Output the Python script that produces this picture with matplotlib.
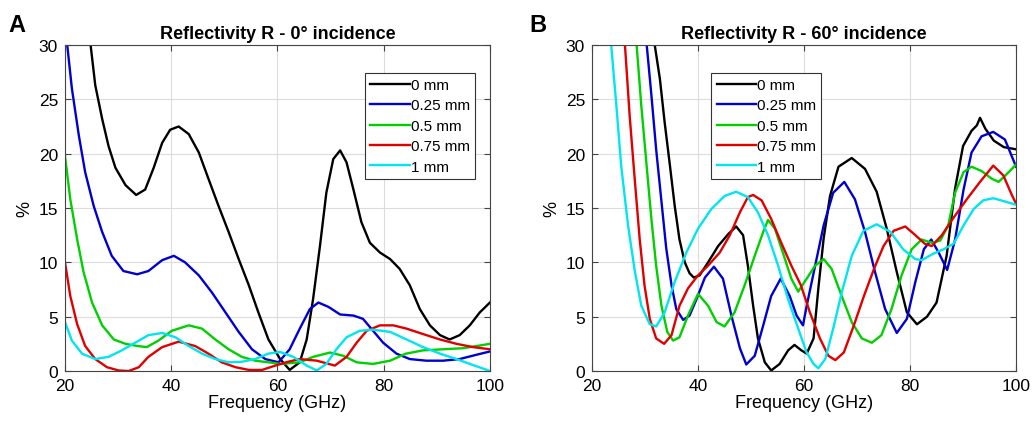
import numpy as np
import matplotlib.pyplot as plt

plt.rcParams['font.family'] = ['Liberation Sans', 'DejaVu Sans']

labels = ['0 mm', '0.25 mm', '0.5 mm', '0.75 mm', '1 mm']
colors = ['#000000', '#0000d0', '#00d000', '#e00000', '#00e5ee']

# Panel A - 0 deg incidence (frequency GHz, reflectivity %)
a_f0 = [24.2, 24.8, 25.7, 27.0, 28.2, 29.5, 31.4, 33.4, 35.1, 36.7, 38.3, 39.8, 41.4, 43.3, 45.2, 47.0, 48.9, 50.8, 52.7, 54.6, 56.4, 58.3, 60.5, 62.3, 64.2, 65.5, 66.7, 68.0, 69.2, 70.5, 71.8, 73.0, 74.3, 75.8, 77.4, 79.3, 81.2, 83.0, 84.9, 86.8, 88.7, 90.6, 92.4, 94.3, 96.2, 98.1, 100]
a_r0 = [32, 30.1, 26.3, 23.2, 20.7, 18.7, 17.1, 16.2, 16.7, 18.7, 21.0, 22.2, 22.5, 21.8, 20.1, 17.7, 15.2, 12.8, 10.3, 7.9, 5.4, 2.9, 1.1, 0.1, 0.8, 2.9, 6.6, 11.5, 16.4, 19.5, 20.3, 19.2, 16.7, 13.7, 11.8, 10.9, 10.3, 9.4, 7.9, 5.7, 4.2, 3.3, 2.9, 3.3, 4.2, 5.4, 6.3]
a_f1 = [20.0, 20.4, 21.3, 22.6, 23.8, 25.4, 27.0, 28.8, 31.0, 33.6, 35.7, 38.3, 40.5, 42.6, 45.2, 47.7, 50.2, 52.7, 55.2, 57.7, 60.2, 62.3, 64.2, 66.1, 67.7, 69.6, 71.8, 74.3, 76.1, 78.0, 79.9, 82.4, 84.9, 88.0, 91.2, 94.3, 97.5, 100]
a_r1 = [31.5, 30.1, 26.0, 21.7, 18.3, 15.2, 12.8, 10.6, 9.2, 8.9, 9.2, 10.2, 10.6, 10.0, 8.8, 7.2, 5.4, 3.6, 2.0, 1.1, 0.8, 2.0, 3.9, 5.7, 6.3, 5.9, 5.2, 5.1, 4.8, 3.7, 2.6, 1.6, 1.1, 0.95, 0.95, 1.1, 1.5, 1.8]
a_f2 = [20.0, 21.0, 22.3, 23.5, 25.1, 27.0, 29.2, 31.4, 33.6, 35.4, 37.6, 40.1, 43.3, 45.8, 48.3, 50.8, 53.3, 55.8, 58.3, 60.5, 64.2, 66.7, 69.9, 72.4, 74.9, 78.0, 81.2, 84.2, 87.4, 91.2, 95.0, 100]
a_r2 = [19.8, 15.8, 12.1, 9.1, 6.3, 4.2, 2.9, 2.5, 2.3, 2.2, 2.8, 3.7, 4.2, 3.9, 2.9, 2.0, 1.3, 0.95, 0.8, 0.65, 0.8, 1.3, 1.7, 1.4, 0.8, 0.65, 0.95, 1.6, 1.9, 2.0, 2.1, 2.5]
a_f3 = [20.0, 21.0, 22.3, 23.8, 25.7, 27.9, 30.1, 32.0, 33.9, 35.7, 38.3, 41.4, 44.5, 47.0, 49.5, 52.1, 54.6, 57.1, 59.6, 62.0, 64.2, 67.4, 70.8, 73.0, 74.9, 76.8, 79.3, 81.8, 84.3, 87.4, 90.6, 93.7, 96.8, 100]
a_r3 = [10.0, 6.9, 4.3, 2.3, 1.1, 0.35, 0.05, 0.0, 0.35, 1.3, 2.2, 2.7, 2.3, 1.6, 0.8, 0.35, 0.1, 0.1, 0.5, 0.85, 1.1, 0.95, 0.5, 1.3, 2.6, 3.7, 4.2, 4.2, 3.9, 3.4, 2.9, 2.5, 2.2, 2.0]
a_f4 = [20.0, 21.3, 23.2, 25.7, 28.2, 30.7, 33.2, 35.7, 38.3, 40.8, 43.3, 45.8, 48.3, 50.8, 53.3, 55.8, 58.3, 60.5, 63.0, 65.5, 67.4, 69.2, 71.1, 73.0, 75.5, 78.0, 81.2, 84.3, 87.4, 90.6, 93.7, 96.8, 100]
a_r4 = [4.5, 2.8, 1.6, 1.1, 1.3, 1.9, 2.6, 3.3, 3.5, 3.1, 2.3, 1.6, 1.1, 0.8, 0.85, 1.1, 1.6, 1.75, 1.3, 0.5, 0.05, 0.65, 2.0, 3.1, 3.7, 3.8, 3.6, 2.9, 2.2, 1.6, 1.1, 0.55, 0.0]

# Panel B - 60 deg incidence
b_f0 = [31.3, 31.8, 32.8, 33.7, 34.7, 35.6, 36.5, 37.5, 38.4, 39.2, 40.3, 41.9, 43.8, 45.7, 47.2, 48.5, 49.4, 50.4, 51.3, 52.6, 53.8, 55.4, 57.0, 58.2, 59.5, 60.5, 61.8, 62.7, 63.7, 64.9, 66.5, 69.0, 71.5, 73.7, 75.6, 77.5, 79.4, 81.3, 83.2, 85.0, 86.9, 88.5, 90.0, 91.6, 92.6, 93.2, 94.2, 95.8, 97.7, 100]
b_r0 = [32, 30.1, 26.9, 22.9, 18.9, 15.2, 12.1, 10.0, 9.0, 8.6, 8.8, 10.0, 11.5, 12.6, 13.3, 12.5, 9.7, 6.0, 3.0, 0.8, 0.05, 0.65, 1.9, 2.4, 1.9, 1.6, 3.0, 7.6, 12.2, 16.1, 18.8, 19.6, 18.6, 16.5, 13.1, 9.1, 5.4, 4.3, 5.0, 6.3, 10.6, 16.8, 20.7, 22.1, 22.6, 23.3, 22.3, 21.2, 20.6, 20.4]
b_f1 = [29.7, 30.3, 31.2, 32.1, 33.1, 34.0, 35.0, 35.9, 37.2, 38.4, 39.7, 41.3, 43.0, 44.7, 46.3, 47.9, 49.1, 50.7, 52.3, 53.8, 55.6, 57.3, 58.6, 59.8, 60.5, 62.1, 63.7, 65.5, 67.6, 69.6, 71.5, 73.4, 75.3, 77.5, 79.4, 81.0, 82.6, 84.0, 85.4, 87.0, 88.5, 90.1, 91.6, 93.5, 95.7, 97.9, 100]
b_r1 = [32, 30.1, 25.4, 20.4, 15.6, 11.3, 7.9, 5.7, 4.7, 5.1, 6.6, 8.6, 9.6, 8.5, 5.1, 2.1, 0.6, 1.4, 4.2, 6.9, 8.5, 6.9, 5.1, 4.2, 6.0, 9.7, 13.4, 16.4, 17.4, 15.8, 12.8, 9.1, 5.7, 3.5, 4.8, 8.2, 11.2, 12.1, 10.9, 9.3, 12.1, 16.7, 20.1, 21.6, 22.0, 21.3, 18.8]
b_f2 = [27.8, 28.4, 29.3, 30.3, 31.2, 32.1, 33.1, 34.2, 35.3, 36.5, 38.1, 40.0, 41.9, 43.5, 45.0, 46.9, 48.8, 50.7, 52.3, 53.2, 54.5, 56.0, 57.6, 58.9, 60.5, 62.1, 63.7, 65.2, 67.1, 69.0, 70.9, 72.8, 74.6, 76.5, 78.4, 80.3, 82.2, 84.1, 85.7, 87.2, 88.5, 90.1, 91.6, 93.5, 95.4, 96.7, 98.2, 100]
b_r2 = [32, 30.1, 24.4, 18.9, 14.0, 9.7, 6.0, 3.6, 2.8, 3.1, 5.1, 7.1, 6.0, 4.5, 4.1, 5.4, 7.9, 10.6, 12.8, 13.9, 13.1, 10.9, 8.5, 7.3, 8.5, 9.7, 10.3, 9.4, 6.9, 4.5, 3.0, 2.6, 3.3, 5.7, 8.8, 11.2, 12.1, 11.8, 12.0, 13.4, 16.4, 18.3, 18.8, 18.4, 17.7, 17.4, 18.1, 19.0]
b_f3 = [25.6, 26.2, 27.1, 28.1, 29.0, 29.9, 30.9, 32.1, 33.6, 35.0, 36.5, 38.1, 40.0, 41.9, 44.1, 46.0, 47.9, 49.4, 50.4, 52.0, 53.8, 55.7, 57.6, 59.4, 61.1, 63.0, 64.6, 65.9, 67.5, 69.4, 71.3, 73.2, 75.0, 76.9, 79.1, 81.0, 82.8, 84.1, 86.0, 88.2, 90.7, 93.2, 95.7, 97.6, 99.2, 100]
b_r3 = [32, 30.1, 23.5, 17.4, 12.1, 7.9, 4.8, 3.0, 2.5, 3.3, 6.0, 7.6, 8.8, 9.7, 10.9, 12.5, 14.6, 16.0, 16.2, 15.7, 14.0, 11.8, 9.7, 7.9, 5.4, 3.0, 1.4, 1.0, 1.7, 4.2, 6.9, 9.4, 11.5, 12.9, 13.3, 12.5, 11.7, 11.5, 12.5, 14.1, 15.8, 17.4, 18.9, 18.0, 16.2, 15.4]
b_f4 = [23.0, 23.6, 24.6, 25.5, 26.8, 28.1, 29.3, 30.9, 32.1, 33.7, 35.6, 37.8, 40.0, 42.5, 45.0, 47.2, 49.4, 51.3, 53.2, 55.1, 57.0, 58.9, 60.5, 61.8, 62.7, 64.0, 65.5, 67.1, 69.0, 71.2, 73.7, 76.3, 78.7, 81.0, 82.2, 84.4, 86.3, 88.2, 90.1, 92.0, 93.8, 95.7, 97.9, 100]
b_r4 = [32, 30.1, 24.4, 18.9, 13.4, 9.1, 6.0, 4.3, 4.1, 5.4, 8.2, 10.9, 13.1, 14.9, 16.1, 16.5, 16.0, 14.6, 12.5, 9.7, 6.6, 3.9, 1.7, 0.65, 0.25, 1.1, 3.9, 7.2, 10.6, 12.9, 13.5, 12.8, 11.2, 10.3, 10.2, 10.8, 11.2, 11.7, 13.4, 14.9, 15.7, 15.9, 15.6, 15.3]

panel_a = [(a_f0, a_r0), (a_f1, a_r1), (a_f2, a_r2), (a_f3, a_r3), (a_f4, a_r4)]
panel_b = [(b_f0, b_r0), (b_f1, b_r1), (b_f2, b_r2), (b_f3, b_r3), (b_f4, b_r4)]

fig = plt.figure(figsize=(10.33, 4.27), dpi=100)
ax_a = fig.add_axes([0.0629, 0.1288, 0.4114, 0.7635])
ax_b = fig.add_axes([0.5731, 0.1288, 0.4105, 0.7635])

def draw_panel(ax, series, title, legend_x):
    for (f, r), c, lab in zip(series, colors, labels):
        ax.plot(f, r, color=c, lw=1.7, label=lab, solid_joinstyle='round')
    ax.set_xlim(20, 100)
    ax.set_ylim(0, 30)
    ax.set_xticks([20, 40, 60, 80, 100])
    ax.set_yticks([0, 5, 10, 15, 20, 25, 30])
    ax.grid(True, color='#dcdcdc', lw=0.8)
    ax.set_axisbelow(True)
    ax.tick_params(direction='in', top=True, right=True, labelsize=12.5, length=4, color='#444444', pad=5)
    for s in ax.spines.values():
        s.set_color('#444444')
        s.set_linewidth(0.8)
    ax.set_title(title, fontsize=13, fontweight='bold', pad=5)
    ax.set_xlabel('Frequency (GHz)', fontsize=13, labelpad=1)
    ax.set_ylabel('%', fontsize=13, labelpad=4)
    leg = ax.legend(loc='upper left', bbox_to_anchor=(legend_x, 0.915), fontsize=11,
                    handlelength=2.6, handletextpad=0.05, borderpad=0.35, labelspacing=0.42,
                    fancybox=False, framealpha=1, edgecolor='#333333', borderaxespad=0)
    leg.get_frame().set_linewidth(0.8)

draw_panel(ax_a, panel_a, 'Reflectivity R - 0° incidence', 0.706)
draw_panel(ax_b, panel_b, 'Reflectivity R - 60° incidence', 0.281)

fig.text(0.008, 0.925, 'A', fontsize=17, fontweight='bold')
fig.text(0.512, 0.925, 'B', fontsize=17, fontweight='bold')

fig.savefig('out.png', dpi=100)
